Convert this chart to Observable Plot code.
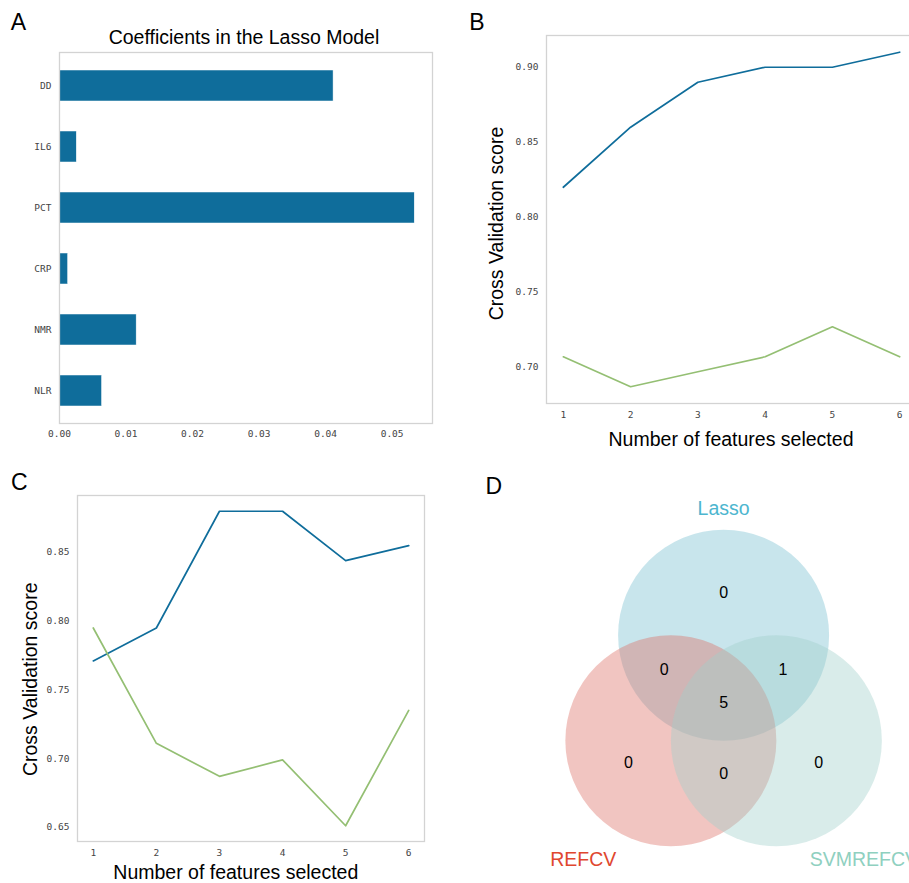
<!DOCTYPE html>
<html><head><meta charset="utf-8">
<script src="https://cdn.jsdelivr.net/npm/d3@7"></script>
<script src="https://cdn.jsdelivr.net/npm/@observablehq/plot@0.6"></script>
<style>
html,body{margin:0;padding:0;background:#fff;overflow:hidden;}
#root{position:relative;width:909px;height:883px;overflow:hidden;background:#fff;}
#root > svg{position:absolute;}
</style></head><body><div id="root"></div>
<script>
// ---------- data ----------
const features = ["DD", "IL6", "PCT", "CRP", "NMR", "NLR"];
const coefficients = [0.0412, 0.0026, 0.0534, 0.0013, 0.0116, 0.0064];
const xTicksA = [0, 0.01, 0.02, 0.03, 0.04, 0.05];

const nFeatures = [1, 2, 3, 4, 5, 6];
const scoreB_s1 = [0.820, 0.860, 0.890, 0.900, 0.900, 0.910];
const scoreB_s2 = [0.707, 0.687, 0.697, 0.707, 0.727, 0.707];
const yTicksB = [0.70, 0.75, 0.80, 0.85, 0.90];

const scoreC_s1 = [0.771, 0.795, 0.880, 0.880, 0.844, 0.855];
const scoreC_s2 = [0.795, 0.711, 0.687, 0.699, 0.651, 0.735];
const yTicksC = [0.65, 0.70, 0.75, 0.80, 0.85];

const vennSets = ["Lasso", "REFCV", "SVMREFCV"];
const vennRegions = ["100", "010", "001", "110", "101", "011", "111"]; // membership: Lasso, REFCV, SVMREFCV
const vennCounts = [0, 0, 0, 0, 1, 0, 5];

// ---------- style ----------
const BLUE = "#0f6d9b", GREEN = "#94bf73", FRAME = "#d3d3d3";
const tickFont = "'DejaVu Sans Mono', monospace";
const textFont = "'Liberation Sans', Arial, sans-serif";
const baseStyle = {fontFamily: tickFont, fontSize: "9.5px", color: "#444", background: "transparent", overflow: "visible"};
const root = document.getElementById("root");
function place(svg, left, top) { svg.style.left = left + "px"; svg.style.top = top + "px"; root.appendChild(svg); }
function mplDomain(vals) { const lo = d3.min(vals), hi = d3.max(vals), m = (hi - lo) * 0.05; return [lo - m, hi + m]; }

// ---------- Panel A ----------
const dataA = features.map((f, i) => ({feature: f, value: coefficients[i]}));
const A = Plot.plot({
  width: 440, height: 445,
  marginLeft: 59, marginTop: 52, marginRight: 8, marginBottom: 22,
  style: baseStyle,
  x: {domain: [0, d3.max(coefficients) * 1.05]},
  y: {domain: features, paddingInner: 0.5, paddingOuter: 0.25},
  marks: [
    Plot.barX(dataA, {x: "value", y: "feature", fill: BLUE, stroke: "#fff", strokeWidth: 0.5}),
    Plot.axisX(xTicksA, {tickSize: 0, tickPadding: 7, tickFormat: d3.format(".2f"), label: null}),
    Plot.axisY({tickSize: 0, tickPadding: 8, label: null}),
    Plot.frame({stroke: FRAME, strokeWidth: 1.3})
  ]
});
place(A, 0, 0);

// ---------- Panel B ----------
const dataB = nFeatures.flatMap((n, i) => [
  {n, score: scoreB_s1[i], s: "s1"},
  {n, score: scoreB_s2[i], s: "s2"}
]);
const B = Plot.plot({
  width: 440, height: 455,
  marginLeft: 66, marginTop: 35, marginRight: 4, marginBottom: 52,
  style: baseStyle,
  x: {domain: mplDomain(nFeatures)},
  y: {domain: mplDomain([...scoreB_s1, ...scoreB_s2])},
  color: {domain: ["s1", "s2"], range: [BLUE, GREEN]},
  marks: [
    Plot.line(dataB, {x: "n", y: "score", stroke: "s", strokeWidth: 1.7}),
    Plot.axisX(nFeatures, {tickSize: 0, tickPadding: 8, tickFormat: d3.format("d"), label: null}),
    Plot.axisY(yTicksB, {tickSize: 0, tickPadding: 8, tickFormat: d3.format(".2f"), label: null}),
    Plot.frame({stroke: FRAME, strokeWidth: 1.3})
  ]
});
place(B, 480, 0);

// ---------- Panel C ----------
const dataC = nFeatures.flatMap((n, i) => [
  {n, score: scoreC_s1[i], s: "s1"},
  {n, score: scoreC_s2[i], s: "s2"}
]);
const C = Plot.plot({
  width: 440, height: 413,
  marginLeft: 77, marginTop: 25, marginRight: 16, marginBottom: 42,
  style: baseStyle,
  x: {domain: mplDomain(nFeatures)},
  y: {domain: mplDomain([...scoreC_s1, ...scoreC_s2])},
  color: {domain: ["s1", "s2"], range: [BLUE, GREEN]},
  marks: [
    Plot.line(dataC, {x: "n", y: "score", stroke: "s", strokeWidth: 1.7}),
    Plot.axisX(nFeatures, {tickSize: 0, tickPadding: 8, tickFormat: d3.format("d"), label: null}),
    Plot.axisY(yTicksC, {tickSize: 0, tickPadding: 8, tickFormat: d3.format(".2f"), label: null}),
    Plot.frame({stroke: FRAME, strokeWidth: 1.3})
  ]
});
place(C, 0, 470);

// ---------- Panel D (Venn) ----------
// layout geometry in units of the circle radius
const centers = [[0, 0.5], [-0.5, -0.5], [0.5, -0.5]];
const circleFill = ["#76bed0", "#dc6e64", "#a0d0cb"];
const labelColor = ["#4db6cf", "#e0472f", "#8fd0c0"];
const labelOffset = [[0, 1.2], [-0.83, -1.13], [0.83, -1.13]];
const circles = vennSets.map((s, i) => ({set: s, x: centers[i][0], y: centers[i][1], r: 1, fill: circleFill[i]}));
// centroid of each region by grid sampling
const acc = {};
for (let gx = -1.6; gx <= 1.6; gx += 0.01) {
  for (let gy = -1.6; gy <= 1.6; gy += 0.01) {
    const key = centers.map(([cx, cy]) => ((gx - cx) ** 2 + (gy - cy) ** 2 <= 1 ? "1" : "0")).join("");
    if (key === "000") continue;
    const a = acc[key] || (acc[key] = {sx: 0, sy: 0, n: 0});
    a.sx += gx; a.sy += gy; a.n++;
  }
}
const regionLabels = vennRegions.map((k, i) => ({x: acc[k].sx / acc[k].n, y: acc[k].sy / acc[k].n, count: vennCounts[i]}));
const setLabels = vennSets.map((s, i) => ({set: s, x: centers[i][0] + labelOffset[i][0], y: centers[i][1] + labelOffset[i][1], color: labelColor[i]}));
const U = 105.5, CX = 193.1, CY = 207.45;
const D = Plot.plot({
  width: 379, height: 403,
  margin: 0,
  style: {...baseStyle, fontFamily: textFont},
  x: {domain: [-1, 1], range: [CX - U, CX + U], axis: null},
  y: {domain: [-1, 1], range: [CY + U, CY - U], axis: null},
  r: {type: "linear", domain: [0, 1], range: [0, U]},
  marks: [
    Plot.dot(circles, {x: "x", y: "y", r: "r", fill: d => d.fill, fillOpacity: 0.4, stroke: null}),
    Plot.text(regionLabels, {x: "x", y: "y", text: "count", fontSize: 16, fill: "#000"}),
    Plot.text(setLabels, {x: "x", y: "y", text: "set", fontSize: 19.5, fill: d => d.color})
  ]
});
place(D, 530, 480);

// ---------- overlay text ----------
const ns = "http://www.w3.org/2000/svg";
const ov = document.createElementNS(ns, "svg");
ov.setAttribute("width", 909); ov.setAttribute("height", 883);
ov.style.left = "0px"; ov.style.top = "0px"; ov.style.pointerEvents = "none";
ov.style.fontFamily = textFont;
function txt(s, x, y, size, rot) {
  const t = document.createElementNS(ns, "text");
  t.textContent = s;
  t.setAttribute("x", x); t.setAttribute("y", y);
  t.setAttribute("font-size", size);
  t.setAttribute("text-anchor", "middle");
  t.setAttribute("fill", "#000");
  if (rot) t.setAttribute("transform", `rotate(${rot},${x},${y})`);
  ov.appendChild(t);
}
txt("A", 18.5, 29.5, 23);
txt("B", 476.8, 30, 23);
txt("C", 19.2, 490, 23);
txt("D", 493.8, 494.3, 23);
txt("Coefficients in the Lasso Model", 244, 44.3, 19.5);
txt("Cross Validation score", 503.3, 223.5, 19.5, -90);
txt("Number of features selected", 731, 445.7, 19.5);
txt("Cross Validation score", 36.7, 679.3, 19.5, -90);
txt("Number of features selected", 235.8, 879.3, 19.5);
root.appendChild(ov);
</script>
</body></html>
